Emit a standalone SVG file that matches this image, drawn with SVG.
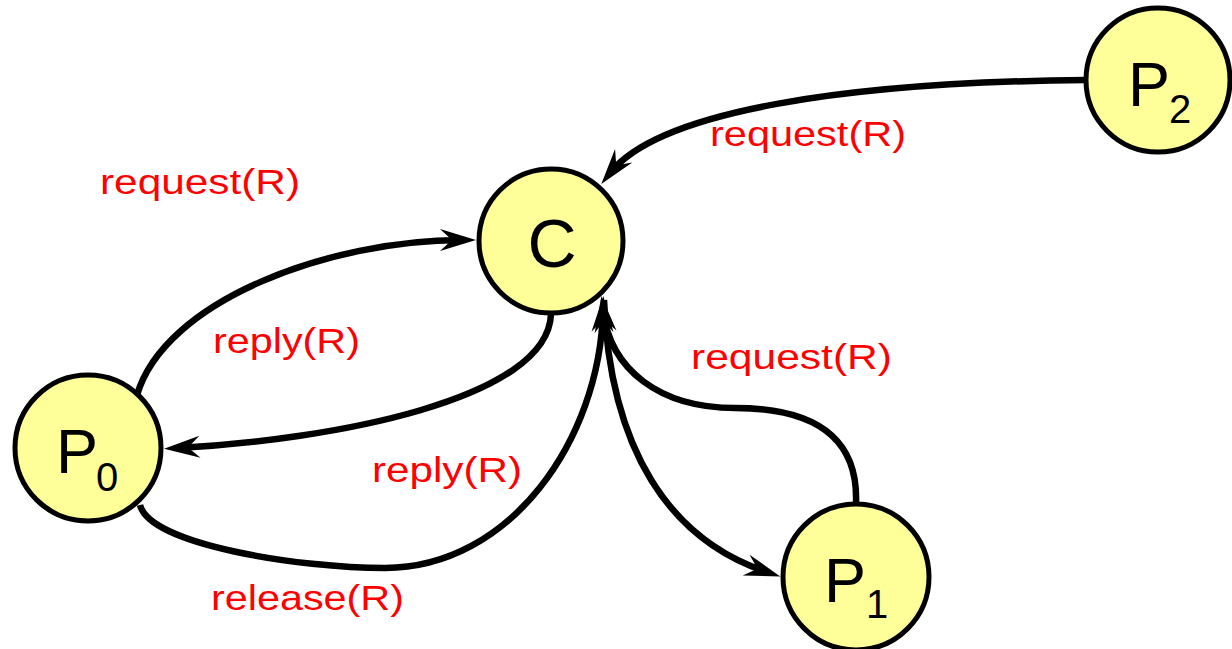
<svg xmlns="http://www.w3.org/2000/svg" width="1232" height="649" viewBox="0 0 1232 649">
  <style>
    .node { fill: #FFFF99; stroke: #000; stroke-width: 5; }
    .nlabel { font-family: "Liberation Sans", Arial, sans-serif; fill: #000; }
    .edge { fill: none; stroke: #000; stroke-width: 6.5; }
    .elabel { font-family: "Liberation Sans", Arial, sans-serif; font-size: 35px; fill: #FF0000; }
  </style>
  <defs>
    <marker id="arrow" markerUnits="userSpaceOnUse" viewBox="-30 -15 50 30" markerWidth="50" markerHeight="30" refX="0" refY="0" orient="auto">
      <path d="M14,0 L-22,-11 L-10,0 L-22,11 Z" fill="#000"/>
    </marker>
  </defs>
  <rect width="1232" height="649" fill="#fff"/>

  <g id="connectors">
    <path class="edge" d="M1087,80 C850,82 660,110 610,173" marker-end="url(#arrow)"/>
    <path class="edge" d="M137,395 C165,300 330,240 462,240" marker-end="url(#arrow)"/>
    <path class="edge" d="M551,314 C548,400 330,440 178,448" marker-end="url(#arrow)"/>
    <path class="edge" d="M140,505 C150,545 300,568 385,568 C510,568 600,440 603,310" marker-end="url(#arrow)"/>
    <path class="edge" d="M604,300 C610,450 670,540 767,572" marker-end="url(#arrow)"/>
    <path class="edge" d="M856,503 C858,450 830,408 735,408 C660,408 610,370 603,310" marker-end="url(#arrow)"/>
  </g>

  <g id="edge-labels">
    <text class="elabel" x="100" y="194" textLength="200" lengthAdjust="spacingAndGlyphs">request(R)</text>
    <text class="elabel" x="213" y="353" textLength="147" lengthAdjust="spacingAndGlyphs">reply(R)</text>
    <text class="elabel" x="372" y="482" textLength="150" lengthAdjust="spacingAndGlyphs">reply(R)</text>
    <text class="elabel" x="211" y="610" textLength="193" lengthAdjust="spacingAndGlyphs">release(R)</text>
    <text class="elabel" x="691" y="369" textLength="201" lengthAdjust="spacingAndGlyphs">request(R)</text>
    <text class="elabel" x="710" y="146" textLength="196" lengthAdjust="spacingAndGlyphs">request(R)</text>
  </g>

  <g id="node-C">
    <circle class="node" cx="551" cy="241" r="72"/>
    <text class="nlabel" x="552" y="267" font-size="68" text-anchor="middle">C</text>
  </g>
  <g id="node-P0">
    <circle class="node" cx="88" cy="448" r="73"/>
    <text class="nlabel" x="56" y="473" font-size="63">P</text>
    <text class="nlabel" x="96" y="491" font-size="40">0</text>
  </g>
  <g id="node-P1">
    <circle class="node" cx="856" cy="577" r="73"/>
    <text class="nlabel" x="824" y="602" font-size="63">P</text>
    <text class="nlabel" x="866" y="618" font-size="40">1</text>
  </g>
  <g id="node-P2">
    <circle class="node" cx="1158" cy="80" r="72"/>
    <text class="nlabel" x="1128" y="106" font-size="63">P</text>
    <text class="nlabel" x="1169" y="123" font-size="40">2</text>
  </g>
</svg>
